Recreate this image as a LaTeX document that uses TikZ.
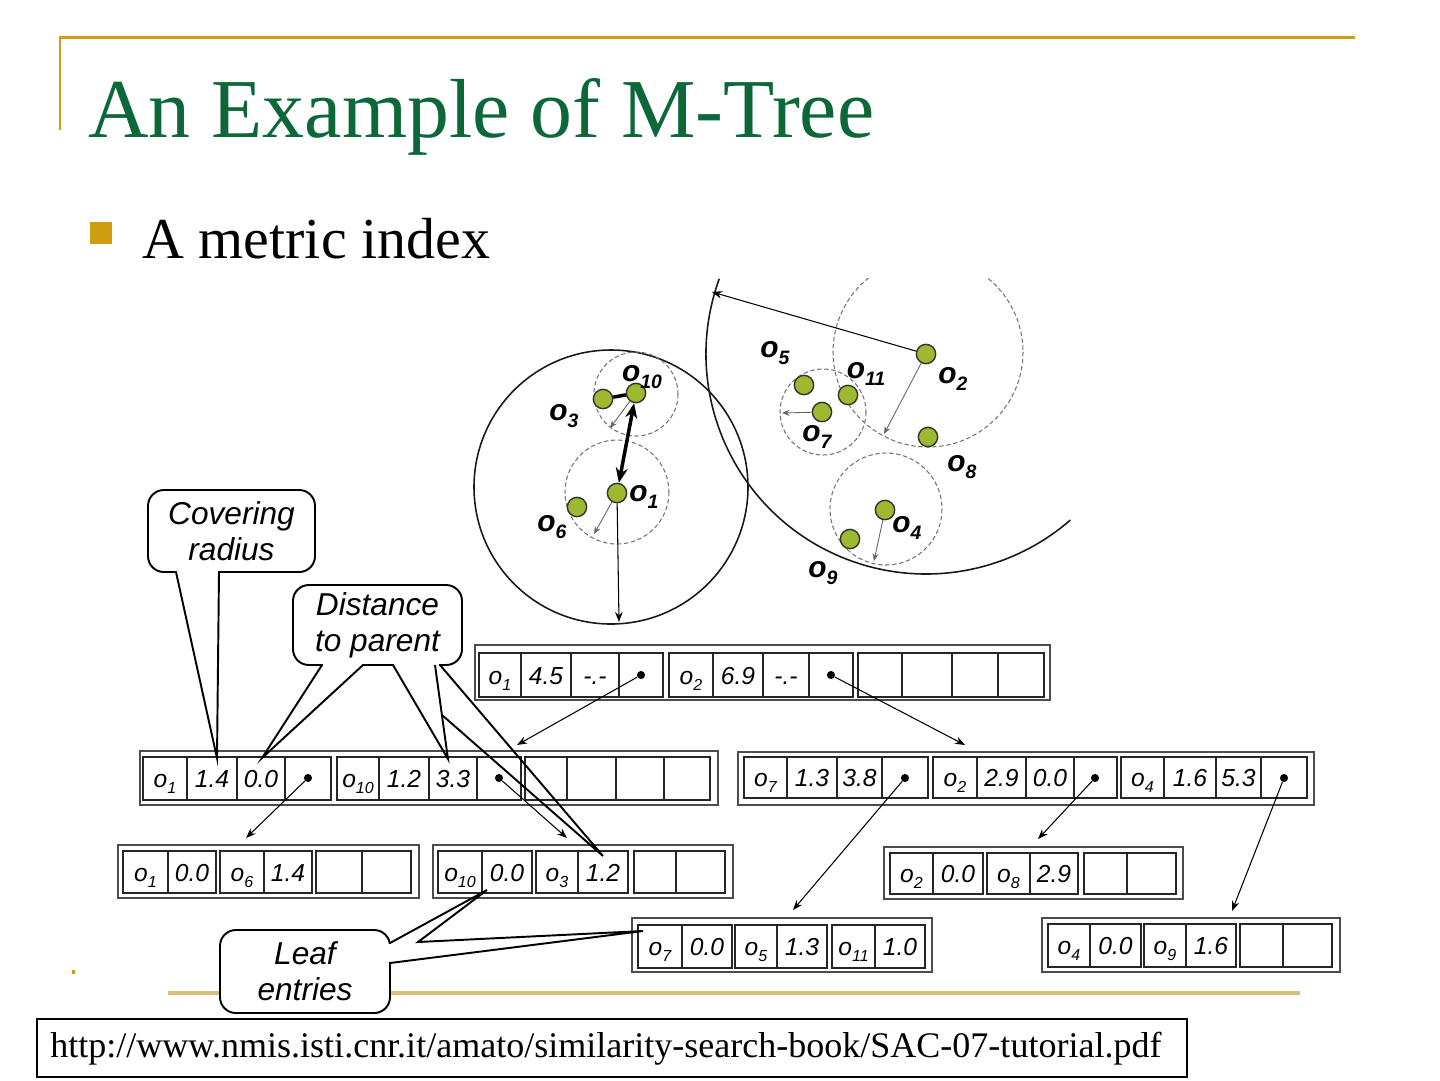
\documentclass[tikz,border=0pt]{standalone}
\usepackage{fontspec}
\usepackage{graphicx}
\setmainfont{Liberation Serif}
\setsansfont{Liberation Sans}
\usetikzlibrary{arrows.meta}

\definecolor{titlegreen}{RGB}{12,104,56}
\definecolor{slidegold}{RGB}{206,158,16}
\definecolor{rulegold}{RGB}{214,192,120}
\definecolor{objgreen}{RGB}{158,184,48}

\newcommand{\osub}[1]{o\raisebox{-0.25em}{\scalebox{0.65}{#1}}}

\tikzset{
  frame/.style={draw=black!70, line width=1.2pt},
  cell/.style={draw=black!85, line width=0.7pt},
  celltext/.style={font=\sffamily\itshape\fontsize{14}{16}\selectfont, inner sep=0pt, anchor=base},
  ptr/.style={circle, fill=black, inner sep=0pt, minimum size=4.6pt},
  link/.style={-{Stealth[length=2mm,width=1.5mm]}, line width=0.6pt},
  obj/.style={circle, draw=black!80, fill=objgreen, line width=0.8pt, inner sep=0pt, minimum size=11pt},
  objlabel/.style={font=\sffamily\bfseries\itshape\fontsize{17}{19}\selectfont, inner sep=0pt},
  region/.style={draw=black!90, line width=0.9pt},
  subregion/.style={draw=black!55, line width=0.6pt, dash pattern=on 2.5pt off 1.5pt},
  radarrow/.style={draw=black!60, line width=0.5pt, -{Stealth[length=1.5mm,width=1.2mm]}},
  bubble/.style={draw, line width=1.1pt, rounded corners=9pt, fill=white, inner sep=0pt, align=center,
    font=\sffamily\itshape\fontsize{18}{20.5}\selectfont},
  tail/.style={line width=1.1pt, line join=miter},
}

\begin{document}
\begin{tikzpicture}[x=0.02cm, y=-0.02cm]
  \useasboundingbox (0,0) rectangle (1440,1080);

  % slide frame, title, bullet
  \draw[slidegold, line width=1.7pt] (60,130) -- (60,37) -- (1355,37);
  \node[anchor=base west, inner sep=0pt, text=titlegreen, font=\fontsize{47.7}{56}\selectfont] (title) at (88,137) {An Example of M-Tree};
  \node[fill=slidegold, inner sep=0pt, minimum size=0.44cm] (bullet) at (101,233) {};
  \node[anchor=base west, inner sep=0pt, font=\fontsize{33}{40}\selectfont] (point) at (142,258) {A metric index};
  \draw[rulegold, line width=2.5pt] (168,993) -- (1300,993);
  \fill[slidegold] (72,970) rectangle (75,974);

  % metric space
  \draw[region] (611,487) circle[radius=137];
  \draw[subregion] (617,492) circle[radius=52];
  \draw[subregion] (636,394) circle[radius=42];
  \draw[subregion] (823,412) circle[radius=43];
  \draw[subregion] (886,509) circle[radius=56];
  \begin{scope}
    \clip (0,278) rectangle (1440,1080);
    \draw[subregion] (928,352) circle[radius=95];
    \draw[region] (926,354) ++(200:220) arc[start angle=200, end angle=49, radius=220];
  \end{scope}

  \node[obj] (o1) at (617,493) {};
  \node[obj] (o10) at (636,393) {};
  \node[obj] (o3) at (603,399) {};
  \node[obj] (o6) at (577,507) {};
  \node[obj] (o2) at (926,354) {};
  \node[obj] (o5) at (804,385) {};
  \node[obj] (o11) at (848,395) {};
  \node[obj] (o7) at (822,412) {};
  \node[obj] (o8) at (928,437) {};
  \node[obj] (o4) at (885,510) {};
  \node[obj] (o9) at (850,539) {};

  \node[objlabel] (l1) at (644,497) {\osub{1}};
  \node[objlabel] (l10) at (642,377) {\osub{10}};
  \node[objlabel] (l3) at (564,416) {\osub{3}};
  \node[objlabel] (l6) at (552,527) {\osub{6}};
  \node[objlabel] (l2) at (953,379) {\osub{2}};
  \node[objlabel] (l5) at (775,353) {\osub{5}};
  \node[objlabel] (l11) at (866,374) {\osub{11}};
  \node[objlabel] (l7) at (817,437) {\osub{7}};
  \node[objlabel] (l8) at (962,467) {\osub{8}};
  \node[objlabel] (l4) at (907,528) {\osub{4}};
  \node[objlabel] (l9) at (823,573) {\osub{9}};

  \coordinate (rad10) at (610,428);
  \coordinate (rad1) at (594,534);
  \coordinate (rad2) at (884,434);
  \coordinate (rad7) at (782,413);
  \coordinate (rad4) at (874,561);
  \coordinate (cov2) at (712,292);
  \coordinate (cov1) at (619,622);
  \draw[radarrow] (o10) -- (rad10);
  \draw[radarrow] (o1) -- (rad1);
  \draw[radarrow] (o2) -- (rad2);
  \draw[radarrow] (o7) -- (rad7);
  \draw[radarrow] (o4) -- (rad4);
  \draw[link] (o2) -- (cov2);
  \draw[link] (o1) -- (cov1);
  \draw[line width=2pt] (o3) -- (o10);
  \draw[line width=2pt, {Stealth[length=3mm,width=2.4mm]}-{Stealth[length=3mm,width=2.4mm]}] (o10) -- (o1);

  % tree nodes
  \node[frame, minimum width=11.5cm, minimum height=1.1cm] (root) at (762.5,672.5) {};
  \node[frame, minimum width=11.56cm, minimum height=1.08cm] (nodeA) at (429,778) {};
  \node[frame, minimum width=11.52cm, minimum height=1.06cm] (nodeB) at (1026,778.5) {};
  \node[frame, minimum width=6.02cm, minimum height=1.06cm] (leaf1) at (268.5,871.5) {};
  \node[frame, minimum width=6cm, minimum height=1.06cm] (leaf10) at (583,871.5) {};
  \node[frame, minimum width=6cm, minimum height=1.08cm] (leaf7) at (782,945) {};
  \node[frame, minimum width=5.98cm, minimum height=1.04cm] (leaf2) at (1033.5,873) {};
  \node[frame, minimum width=5.96cm, minimum height=1.08cm] (leaf4) at (1191,945) {};

  \foreach \xa/\xb/\txt in {479/521/{\osub{1}}, 521/571/4.5, 571/619/-.-, 619/663/{},
      669/713/{\osub{2}}, 713/763/6.9, 763/809/-.-, 809/853/{},
      858/902/{}, 902/952/{}, 952/998/{}, 998/1044/{}} {
    \draw[cell] (\xa,653) rectangle (\xb,697);
    \node[celltext] at ({(\xa+\xb)/2},684) {\txt};
  }
  \foreach \xa/\xb/\txt in {143/187/{\osub{1}}, 187/237/1.4, 237/285/0.0, 285/331/{},
      337/379/{\osub{10}}, 379/429/1.2, 429/477/3.3, 477/521/{},
      525/567/{}, 567/616/{}, 616/664/{}, 664/710/{}} {
    \draw[cell] (\xa,757) rectangle (\xb,800);
    \node[celltext] at ({(\xa+\xb)/2},787) {\txt};
  }
  \foreach \xa/\xb/\txt in {744/787/{\osub{7}}, 787/837/1.3, 837/882/3.8, 882/928/{},
      933/977/{\osub{2}}, 977/1026/2.9, 1026/1074/0.0, 1074/1117/{},
      1121/1164/{\osub{4}}, 1164/1216/1.6, 1216/1261/5.3, 1261/1307/{}} {
    \draw[cell] (\xa,757) rectangle (\xb,798);
    \node[celltext] at ({(\xa+\xb)/2},786.5) {\txt};
  }
  \foreach \xa/\xb/\txt in {123/168/{\osub{1}}, 168/216/0.0, 220/264/{\osub{6}}, 264/312/1.4,
      316/362/{}, 362/411/{}, 438/482/{\osub{10}}, 482/532/0.0, 536/578/{\osub{3}}, 578/628/1.2,
      634/676/{}, 676/725/{}} {
    \draw[cell] (\xa,851) rectangle (\xb,893);
    \node[celltext] at ({(\xa+\xb)/2},881) {\txt};
  }
  \foreach \xa/\xb/\txt in {890/933/{\osub{2}}, 933/983/0.0, 987/1030/{\osub{8}}, 1030/1078/2.9,
      1084/1127/{}, 1127/1176/{}} {
    \draw[cell] (\xa,853) rectangle (\xb,894);
    \node[celltext] at ({(\xa+\xb)/2},882) {\txt};
  }
  \foreach \xa/\xb/\txt in {638/682/{\osub{7}}, 682/732/0.0, 735/777/{\osub{5}}, 777/827/1.3,
      832/875/{\osub{11}}, 875/925/1.0} {
    \draw[cell] (\xa,925) rectangle (\xb,968);
    \node[celltext] at ({(\xa+\xb)/2},955) {\txt};
  }
  \foreach \xa/\xb/\txt in {1048/1090/{\osub{4}}, 1090/1141/0.0, 1144/1186/{\osub{9}}, 1186/1236/1.6,
      1240/1283/{}, 1283/1332/{}} {
    \draw[cell] (\xa,924) rectangle (\xb,967);
    \node[celltext] at ({(\xa+\xb)/2},954) {\txt};
  }

  % child pointers
  \node[ptr] (r1) at (641,675) {};
  \node[ptr] (r2) at (831,675) {};
  \node[ptr] (a1) at (308,778) {};
  \node[ptr] (a2) at (499,778) {};
  \node[ptr] (b1) at (905,778) {};
  \node[ptr] (b2) at (1095,778) {};
  \node[ptr] (b3) at (1284,778) {};
  \coordinate (inA) at (517,745);
  \coordinate (inB) at (965,745);
  \coordinate (in1) at (246,838);
  \coordinate (in10) at (567,838);
  \coordinate (in7) at (793,910);
  \coordinate (in2) at (1038,839);
  \coordinate (in4) at (1232,911);
  \draw[link] (r1) -- (inA);
  \draw[link] (r2) -- (inB);
  \draw[link] (a1) -- (in1);
  \draw[link] (a2) -- (in10);
  \draw[link] (b1) -- (in7);
  \draw[link] (b2) -- (in2);
  \draw[link] (b3) -- (in4);

  % callouts
  \node[bubble, minimum width=3.34cm, minimum height=1.64cm] (cover) at (231.5,531) {Covering\\radius};
  \node[bubble, minimum width=3.38cm, minimum height=1.6cm] (dist) at (377.5,625) {Distance\\to parent};
  \node[bubble, minimum width=3.4cm, minimum height=1.66cm] (leafnote) at (305,971.5) {Leaf\\entries};

  \coordinate (tipR) at (217,758);
  \coordinate (tipD0) at (262,758);
  \coordinate (tipD1) at (448,759);
  \coordinate (tipD2) at (603,856);
  \coordinate (tipL0) at (487,890);
  \coordinate (tipL1) at (643,931);
  \draw[white, line width=2pt] (177,572) -- (218,572);
  \draw[tail] (176,572) -- (tipR) -- (219,572);
  \draw[white, line width=2pt] (323,665) -- (362,665) (394,665) -- (439,665);
  \draw[tail] (322,665) -- (tipD0) -- (363,665);
  \draw[tail] (393,665) -- (tipD1) -- (435,665);
  \draw[tail] (442,715) -- (tipD2) -- (440,665);
  \draw[white, line width=2pt] (390,944) -- (390,962);
  \draw[tail] (390,943) -- (tipL0) -- (418,942) -- (tipL1) -- (390,963);

  % source
  \node[draw, line width=0.8pt, minimum width=23cm, minimum height=1.16cm, inner sep=0pt] (source) at (612,1048) {};
  \node[anchor=west, inner sep=0pt, font=\fontsize{20.5}{25}\selectfont] (url) at (50,1049)
    {http://www.nmis.isti.cnr.it/amato/similarity-search-book/SAC-07-tutorial.pdf};
\end{tikzpicture}
\end{document}
